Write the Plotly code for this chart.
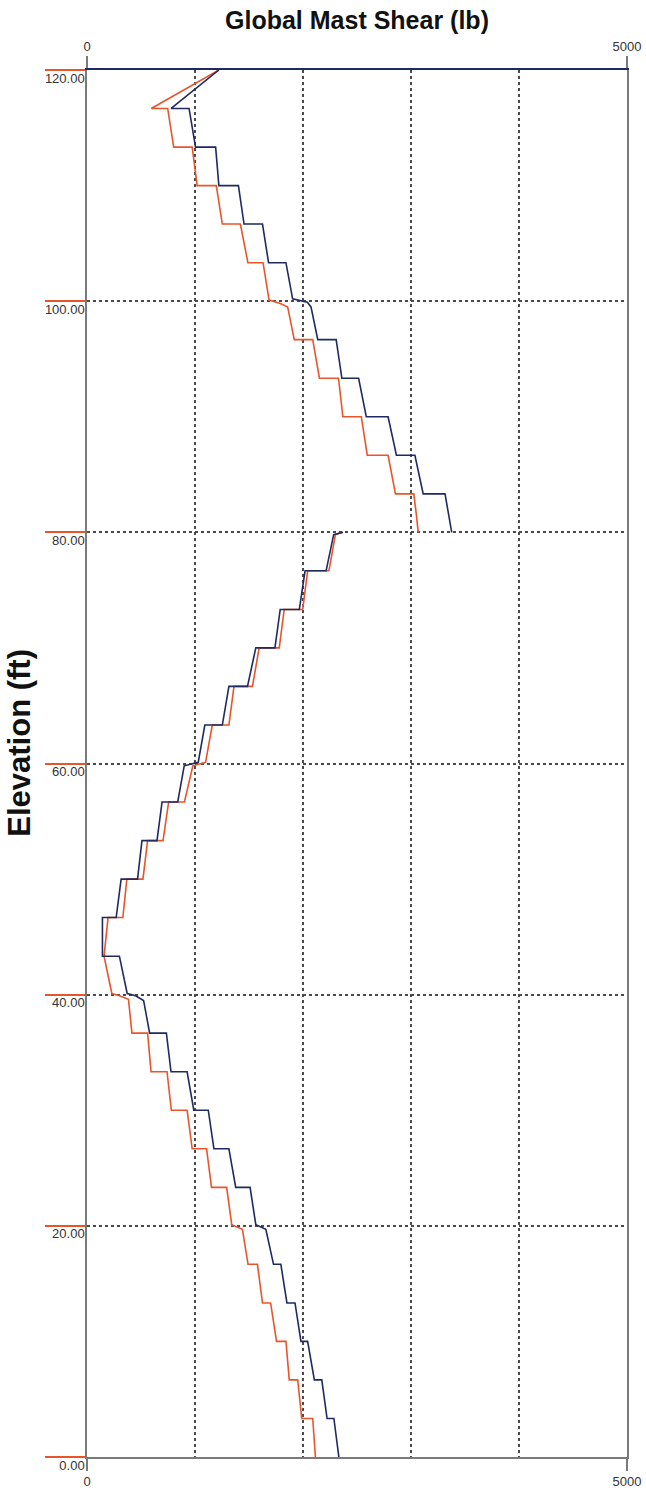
import plotly.graph_objects as go

# ---- data (shear in lb, elevation in ft) ----
blue_shear = [1221, 779, 945, 1005, 1191, 1221, 1402, 1454, 1625, 1681, 1842,
              1904, 2040, 2074, 2137, 2307, 2360, 2515, 2586, 2788, 2865, 3036,
              3113, 3315, 3377, None,
              2369, 2284, 2214, 2019, 1966, 1789, 1740, 1563, 1486, 1314, 1253,
              1091, 1030, 900, 840, 695, 648, 509, 468, 316, 270, 143, 143, 300,
              372, 450, 524,
              580, 735, 778, 927, 989, 1123, 1175, 1314, 1377, 1510, 1563, 1656,
              1727, 1795, 1851, 1926, 1981, 2043, 2105, 2174, 2223, 2286, 2332]
blue_elev = [120, 116.67, 116.67, 113.33, 113.33, 110, 110, 106.67, 106.67,
             103.33, 103.33, 100.2, 99.9, 99.5, 96.67, 96.67, 93.33, 93.33, 90,
             90, 86.67, 86.67, 83.33, 83.33, 80, None,
             80, 79.8, 76.67, 76.67, 73.33, 73.33, 70, 70, 66.67, 66.67, 63.33,
             63.33, 60.1, 59.8, 56.67, 56.67, 53.33, 53.33, 50, 50, 46.67, 46.67,
             43.33, 43.33, 40.1, 39.9, 39.5,
             36.67, 36.67, 33.33, 33.33, 30, 30, 26.67, 26.67, 23.33, 23.33,
             20.1, 19.7, 16.67, 16.67, 13.33, 13.33, 10, 10, 6.67, 6.67, 3.33,
             3.33, 0]

red_shear = [1221, 595, 747, 803, 974, 1020, 1197, 1253, 1420, 1490, 1630,
             1686, 1790, 1858, 1919, 2090, 2152, 2329, 2369, 2540, 2595, 2788,
             2856, 3026, 3050, 3067, None,
             2369, 2300, 2240, 2043, 1997, 1826, 1780, 1594, 1532, 1361, 1314,
             1160, 1098, 980, 902, 756, 704, 561, 518, 369, 332, 195, 158, 230,
             300, 384,
             416, 561, 593, 741, 781, 927, 974, 1107, 1153, 1293, 1340, 1439,
             1491, 1578, 1625, 1700, 1755, 1842, 1873, 1951, 1988, 2090, 2115]
red_elev = [120, 116.67, 116.67, 113.33, 113.33, 110, 110, 106.67, 106.67,
            103.33, 103.33, 100.1, 99.8, 99.5, 96.67, 96.67, 93.33, 93.33, 90,
            90, 86.67, 86.67, 83.33, 83.33, 81.5, 80, None,
            80, 79.8, 76.67, 76.67, 73.33, 73.33, 70, 70, 66.67, 66.67, 63.33,
            63.33, 60.1, 59.8, 56.67, 56.67, 53.33, 53.33, 50, 50, 46.67, 46.67,
            43.33, 40.1, 39.9, 39.6,
            36.67, 36.67, 33.33, 33.33, 30, 30, 26.67, 26.67, 23.33, 23.33,
            20.1, 19.7, 16.67, 16.67, 13.33, 13.33, 10, 10, 6.67, 6.67, 3.33,
            3.33, 0]

y_ticks = [0, 20, 40, 60, 80, 100, 120]
y_ticktext = ["0.00", "20.00", "40.00", "60.00", "80.00", "100.00", "120.00"]
y_grid = [20, 40, 60, 80, 100]
x_ticks = [0, 5000]
x_ticktext = ["0", "5000"]
x_grid = [1000, 2000, 3000, 4000]

RED = "#e9552b"
NAVY = "#1f2a62"
GRID = "#4a4a4a"
AXIS = "#7a7a7a"
FONT = "Liberation Sans, Arial, sans-serif"

fig = go.Figure()
fig.add_trace(go.Scatter(x=red_shear, y=red_elev, mode="lines",
                         line=dict(color=RED, width=1.6), connectgaps=False,
                         showlegend=False, hoverinfo="skip"))
fig.add_trace(go.Scatter(x=blue_shear, y=blue_elev, mode="lines",
                         line=dict(color=NAVY, width=1.6), connectgaps=False,
                         showlegend=False, hoverinfo="skip"))
# dummy trace to activate the top axis
fig.add_trace(go.Scatter(x=[None], y=[None], xaxis="x2", showlegend=False,
                         hoverinfo="skip"))

fig.update_layout(
    width=646, height=1501,
    margin=dict(l=87, r=19, t=70, b=44, autoexpand=False),
    paper_bgcolor="white", plot_bgcolor="white",
    font=dict(family=FONT, color="#333333", size=13),
    title=dict(text="<b>Global Mast Shear (lb)</b>", x=0.5, xref="paper",
               xanchor="center", y=1 - 20 / 1501, yanchor="middle",
               font=dict(family=FONT, size=25, color="#111111")),
    xaxis=dict(range=[0, 5000], tickmode="array", tickvals=x_ticks,
               ticktext=x_ticktext, ticks="outside", ticklen=12,
               tickcolor=AXIS, tickwidth=1.5, showline=True, linecolor=AXIS,
               linewidth=1.5, showgrid=False, zeroline=False, automargin=False,
               tickfont=dict(size=13, color="#333333"),
               minor=dict(tickmode="array", tickvals=x_grid, showgrid=True,
                          gridcolor=GRID, griddash="dot", gridwidth=1.5,
                          ticks="")),
    xaxis2=dict(range=[0, 5000], overlaying="x", side="top",
                tickmode="array", tickvals=x_ticks, ticktext=x_ticktext,
                ticks="outside", ticklen=12, tickcolor=AXIS, tickwidth=1.5,
                showline=True, linecolor=NAVY, linewidth=2, showgrid=False,
                zeroline=False, automargin=False,
                tickfont=dict(size=13, color="#333333")),
    yaxis=dict(range=[0, 120], tickmode="array", tickvals=y_ticks,
               ticktext=y_ticktext, ticks="outside", ticklen=40,
               tickcolor=RED, tickwidth=1.5, ticklabelstandoff=-42,
               ticklabelshift=8, showline=True, linecolor=AXIS, linewidth=1.5,
               mirror=True, showgrid=False, zeroline=False, automargin=False,
               tickfont=dict(size=13, color="#333333"),
               minor=dict(tickmode="array", tickvals=y_grid, showgrid=True,
                          gridcolor=GRID, griddash="dot", gridwidth=1.5,
                          ticks="")),
)

fig.add_annotation(text="<b>Elevation (ft)</b>", textangle=-90,
                   xref="paper", yref="paper", x=-0.124, y=0.515,
                   xanchor="center", yanchor="middle", showarrow=False,
                   font=dict(family=FONT, size=31, color="#111111"))

# remove the default 8px page margin so the figure fills the window exactly
fig.write_html("out.html",
               config={"displayModeBar": False},
               post_script="document.body.style.margin='0px';"
                           "document.body.style.overflow='hidden';")
